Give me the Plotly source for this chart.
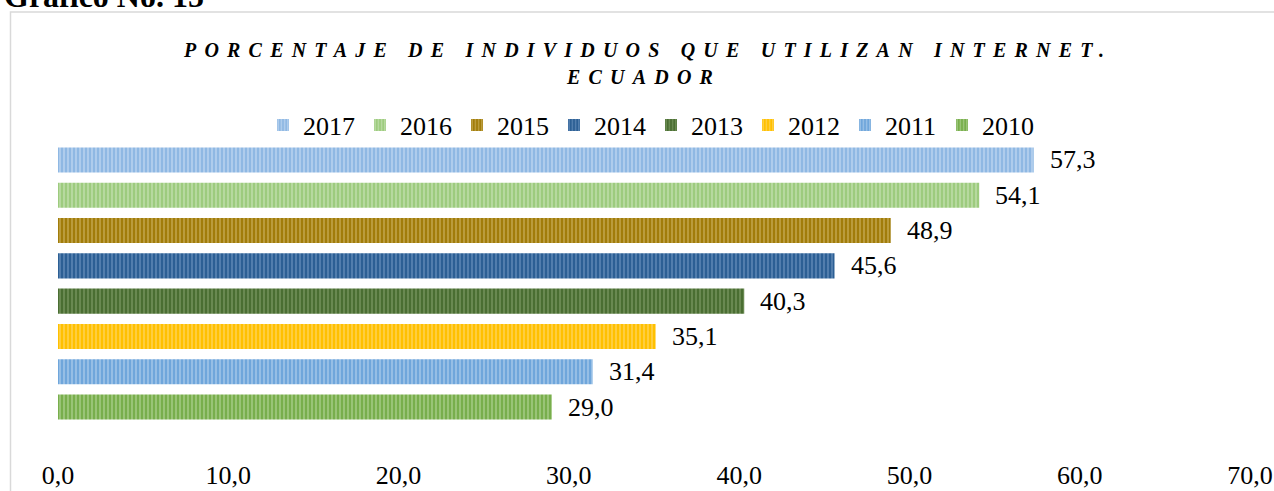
import plotly.graph_objects as go

years = ["2017", "2016", "2015", "2014", "2013", "2012", "2011", "2010"]
values = [57.3, 54.1, 48.9, 45.6, 40.3, 35.1, 31.4, 29.0]
base_colors = ["#8FB8E3", "#9DCB7E", "#A17C0A", "#2C5F94", "#4A6E32", "#FFC000", "#6FA6DB", "#78AE4C"]
stripe_colors = ["#D4E5F6", "#D6EBC8", "#D9C27A", "#7FA3CC", "#8DAA78", "#FFE08A", "#C4DCF2", "#C2DEAB"]
x_ticks = [0, 10, 20, 30, 40, 50, 60, 70]

W, H = 1274, 491
L, R, T, B = 58, 24, 100, 36
pw, ph = W - L - R, H - T - B

def px_x(p):
    return (p - L) / pw

def px_y(p):
    return (H - B - p) / ph

serif = "Liberation Serif"

fig = go.Figure()
n = len(years)
for i, (yr, v, bc, sc) in enumerate(zip(years, values, base_colors, stripe_colors)):
    pos = n - 1 - i
    fig.add_trace(go.Bar(
        x=[v], y=[pos], orientation="h", name=yr, width=0.71,
        marker=dict(color=bc, line=dict(width=0),
                    pattern=dict(shape="|", size=4, solidity=0.45,
                                 fgcolor=sc, bgcolor=bc, fillmode="overlay")),
        hovertemplate=yr + ": %{x:.1f}<extra></extra>",
    ))
    fig.add_annotation(x=v, y=pos, xref="x", yref="y", text=f"{v:.1f}".replace(".", ","),
                       showarrow=False, xanchor="left", yanchor="middle", xshift=14,
                       font=dict(family=serif, size=26, color="#000000"))

fig.add_annotation(
    x=px_x(647), y=px_y(50), xref="paper", yref="paper", xanchor="center", yanchor="middle",
    text='<span style="letter-spacing:8.2px"><b><i>PORCENTAJE DE INDIVIDUOS QUE UTILIZAN INTERNET.</i></b></span>',
    showarrow=False, font=dict(family=serif, size=20, color="#000000"))
fig.add_annotation(
    x=px_x(643), y=px_y(77), xref="paper", yref="paper", xanchor="center", yanchor="middle",
    text='<span style="letter-spacing:8.2px"><b><i>ECUADOR</i></b></span>',
    showarrow=False, font=dict(family=serif, size=20, color="#000000"))
fig.add_annotation(
    x=px_x(2), y=px_y(16), xref="paper", yref="paper", xanchor="left", yanchor="bottom",
    text="<b>Gráfico No. 15</b>", showarrow=False,
    font=dict(family=serif, size=32, color="#000000"))

fig.add_shape(type="rect", xref="paper", yref="paper",
              x0=px_x(10.5), x1=px_x(1300), y0=px_y(12), y1=px_y(520),
              line=dict(color="#D9D9D9", width=1.5), fillcolor="rgba(0,0,0,0)", layer="below")

fig.update_layout(
    width=W, height=H,
    margin=dict(l=L, r=R, t=T, b=B, pad=0, autoexpand=False),
    paper_bgcolor="white", plot_bgcolor="white",
    barmode="overlay",
    separators=",.",
    showlegend=True,
    legend=dict(orientation="h", x=px_x(651), y=px_y(125), xanchor="center", yanchor="middle",
                font=dict(family=serif, size=26, color="#000000"), traceorder="normal",
                itemwidth=30, entrywidth=52, bgcolor="rgba(0,0,0,0)"),
    xaxis=dict(range=[0, 70], tickvals=x_ticks, tickformat=".1f", showgrid=False, zeroline=False,
               showline=False, ticks="", tickfont=dict(family=serif, size=26, color="#000000"),
               ticklabelstandoff=2, fixedrange=True, automargin=False),
    yaxis=dict(range=[-1.36, 8.70], showticklabels=False, showgrid=False, zeroline=False,
               showline=False, ticks="", fixedrange=True, automargin=False),
)

fig.write_html("out.html", config={"displayModeBar": False},
               post_script="document.body.style.margin='0';")
